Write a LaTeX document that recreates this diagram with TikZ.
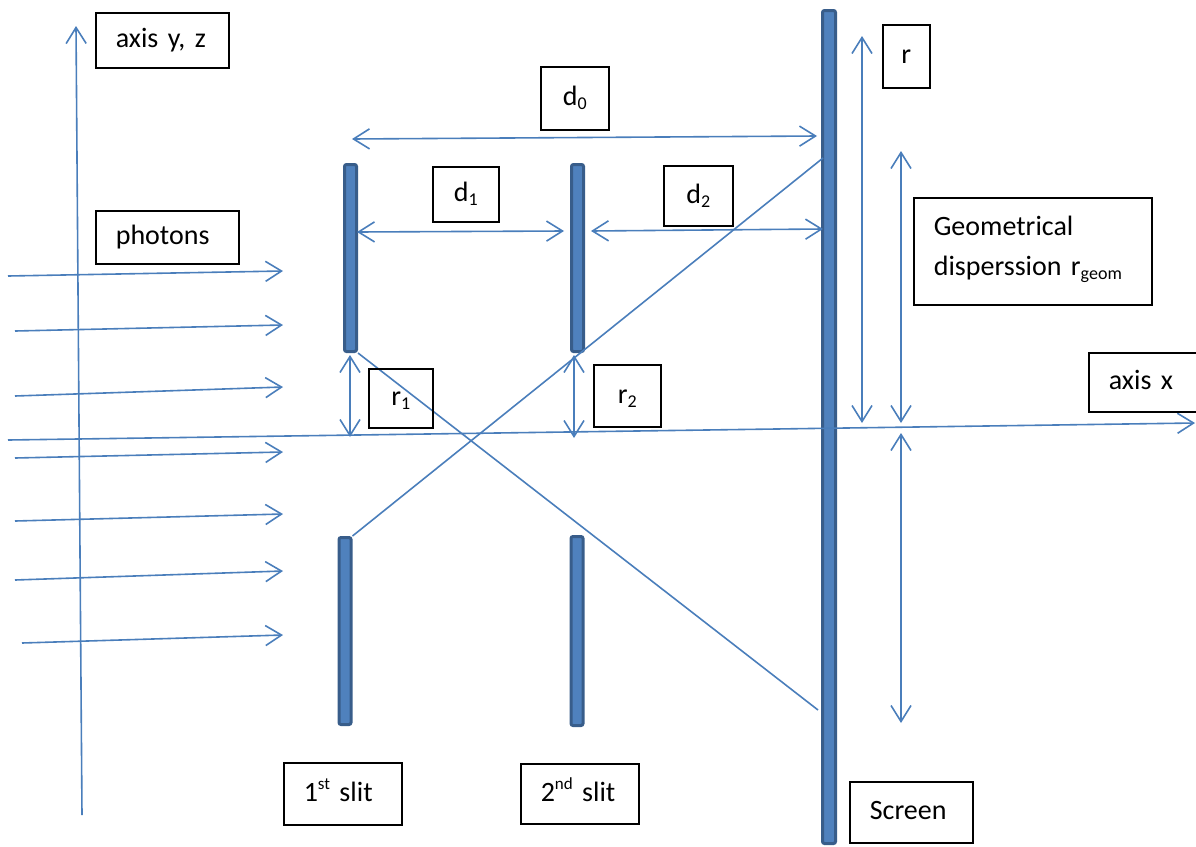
\documentclass[tikz,border=0pt]{standalone}
\usepackage{fontspec}
\setmainfont{Carlito}
\usetikzlibrary{arrows.meta}
\definecolor{ln}{HTML}{4A7EBB}
\definecolor{slitfill}{HTML}{4F81BD}
\definecolor{slitedge}{HTML}{385D8A}
\newcommand\sbs[1]{\raisebox{-4pt}{\fontsize{18}{20}\selectfont #1}}
\newcommand\sps[1]{\raisebox{12pt}{\fontsize{17}{20}\selectfont #1}}
\frenchspacing
\begin{document}
\begin{tikzpicture}[x=1pt,y=-1pt,
  every node/.style={font=\fontsize{28}{40}\selectfont},
  ray/.style={draw=ln, line width=1.6pt},
  arr/.style={ray, -{Straight Barb[length=16pt,width=20pt]}},
  dim/.style={ray, {Straight Barb[length=16pt,width=20pt]}-{Straight Barb[length=16pt,width=20pt]}},
  barrier/.style={draw=slitedge, fill=slitfill, line width=3pt, rounded corners=2pt, minimum width=12pt, inner sep=0pt},
  tbox/.style={draw=black, line width=1.6pt, anchor=north west, inner ysep=0pt, text height=21pt, text depth=6pt},
  cbox/.style n args={2}{tbox, minimum width=#1, minimum height=#2, inner xsep=0pt, align=center},
  lbox/.style n args={3}{tbox, minimum height=#2, inner xsep=20pt, text width=#3, align=left},
]
\useasboundingbox (0,0) rectangle (1196,846);

% barriers
\node[barrier, minimum height=187pt] (s1u) at (350.5,258) {};
\node[barrier, minimum height=187pt] (s1l) at (345,631) {};
\node[barrier, minimum height=187pt] (s2u) at (577.5,258) {};
\node[barrier, minimum height=189pt] (s2l) at (577,631) {};
\node[barrier, minimum width=13pt, minimum height=833pt] (scr) at (829,427) {};

% coordinates
\coordinate (yb) at (82,815);
\coordinate (yt) at (76,26);
\coordinate (xl) at (8,440);
\coordinate (xr) at (1195,423);
\coordinate (p1s) at (8,276);   \coordinate (p1e) at (283,271);
\coordinate (p2s) at (15,331);  \coordinate (p2e) at (283,325);
\coordinate (p3s) at (15,396);  \coordinate (p3e) at (283,387);
\coordinate (p4s) at (15,458);  \coordinate (p4e) at (283,452);
\coordinate (p5s) at (15,521);  \coordinate (p5e) at (283,514);
\coordinate (p6s) at (15,580);  \coordinate (p6e) at (283,571);
\coordinate (p7s) at (22,643);  \coordinate (p7e) at (283,635);
\coordinate (hitA) at (823,158);
\coordinate (hitB) at (818,710);
\coordinate (d0l) at (352,139); \coordinate (d0r) at (817,136);
\coordinate (d1l) at (357,232); \coordinate (d1r) at (564,231);
\coordinate (d2l) at (591,231); \coordinate (d2r) at (823,229);
\coordinate (r1t) at (350,355); \coordinate (r1b) at (350,437);
\coordinate (r2t) at (574,355); \coordinate (r2b) at (574,438);
\coordinate (rt) at (862,36);   \coordinate (rb) at (862,423);
\coordinate (gt) at (901,151);  \coordinate (gb) at (901,423);
\coordinate (ht) at (901,433);  \coordinate (hb) at (901,723);

% axes
\draw[arr] (yb) -- (yt);

% photons
\foreach \i in {1,...,7} {\draw[arr] (p\i s) -- (p\i e);}

% rays through the slits
\draw[ray] (s1l.north east) -- (hitA);
\draw[ray] (s1u.south east) -- (hitB);

% dimensions
\draw[dim] (d0l) -- (d0r);
\draw[dim] (d1l) -- (d1r);
\draw[dim] (d2l) -- (d2r);
\draw[dim] (r1t) -- (r1b);
\draw[dim] (r2t) -- (r2b);
\draw[dim] (rt) -- (rb);
\draw[dim] (gt) -- (gb);
\draw[dim] (ht) -- (hb);

\draw[arr] (xl) -- (xr);

% labels
\node[lbox={133pt}{55pt}{93pt}] (laxy) at (95,12) {axis y, z};
\node[lbox={143pt}{53pt}{103pt}] (lpho) at (95,210) {photons};
\node[cbox={68pt}{63pt}] (ld0) at (540,66) {d\sbs{0}};
\node[cbox={66pt}{55pt}] (ld1) at (432,166) {d\sbs{1}};
\node[cbox={69pt}{60pt}] (ld2) at (663,165) {d\sbs{2}};
\node[cbox={64pt}{59pt}] (lr1) at (368,368) {r\sbs{1}};
\node[cbox={67pt}{62pt}] (lr2) at (593,364) {r\sbs{2}};
\node[cbox={47pt}{63pt}] (lr) at (882,24) {r};
\node[lbox={238pt}{107pt}{198pt}, text height=15pt, text depth=46pt] (lgeo) at (913,197) {Geometrical\\disperssion r\sbs{geom}};
\node[lbox={112pt}{59pt}{72pt}] (lax) at (1088,352) {axis x};
\node[lbox={118pt}{62pt}{78pt}] (ls1) at (283,762) {1\sps{st} slit};
\node[lbox={118pt}{60pt}{78pt}] (ls2) at (520,763) {2\sps{nd} slit};
\node[lbox={123pt}{61pt}{83pt}] (lscr) at (849,781) {Screen};
\end{tikzpicture}
\end{document}
